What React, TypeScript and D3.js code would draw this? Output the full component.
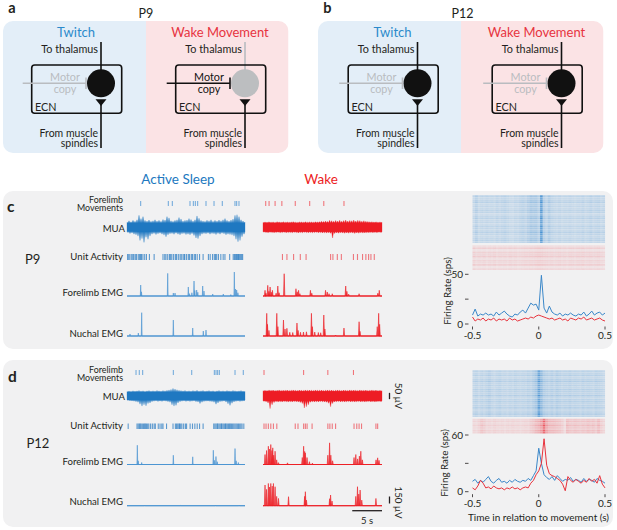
import React from "react";
import * as d3 from "d3";

// ---------------- DATA ----------------
// time (s) of each trace window: 0..20 s
const traceSeconds = [0, 20];

// Panel c (P9)
const cSleepMoves = [2.32, 7.0, 7.68, 10.68, 11.24, 11.58, 11.98, 13.39, 14.75, 16.15, 18.3, 18.59, 18.98];
const cWakeMoves = [0.46, 1.02, 2.03, 3.17, 5.42, 7.85, 10.22, 13.61];

const cSleepMuaUp = [40, 52, 45, 55, 48, 60, 95, 70, 85, 55, 50, 58, 48, 52, 60, 50, 55, 48, 62, 58, 85, 75, 52, 48, 55, 60, 78, 66, 50, 55, 58, 70, 62, 50, 60, 90, 72, 55, 50, 48, 56, 52, 60, 48, 55, 50, 58, 52, 60, 70, 55, 50, 58, 65, 95, 100, 85, 60, 50, 42];
const cSleepMuaDown = [42, 50, 46, 55, 60, 70, 105, 90, 120, 80, 95, 70, 55, 50, 58, 52, 48, 55, 62, 75, 60, 52, 50, 56, 48, 55, 60, 52, 50, 58, 55, 60, 52, 65, 85, 90, 70, 55, 50, 52, 48, 55, 50, 52, 58, 50, 55, 48, 52, 60, 55, 58, 62, 70, 95, 115, 105, 75, 55, 45];
const cWakeMuaUp = [38, 42, 40, 44, 41, 43, 39, 45, 42, 40, 44, 41, 43, 40, 42, 45, 41, 39, 43, 42, 40, 44, 41, 43, 42, 40, 44, 42, 45, 48, 46, 50, 47, 55, 52, 48, 54, 50, 56, 49, 53, 58, 50, 54, 52, 57, 50, 55, 53, 49, 52, 48, 46, 44, 45, 42, 44, 41, 43, 40];
const cWakeMuaDown = [38, 41, 43, 40, 42, 44, 41, 39, 43, 42, 40, 44, 42, 41, 43, 40, 42, 45, 41, 43, 40, 42, 44, 41, 43, 42, 40, 44, 42, 45, 43, 46, 44, 48, 85, 50, 45, 47, 44, 46, 48, 45, 47, 44, 46, 49, 45, 47, 44, 46, 45, 43, 44, 42, 44, 41, 43, 40, 42, 39];

const cSleepUnits = [0.1, 0.3, 0.5, 0.8, 1.0, 1.15, 1.4, 1.6, 1.9, 2.1, 2.3, 2.45, 2.7, 3.0, 3.3, 3.8, 4.6,
  6.1, 6.4, 6.6, 6.9, 7.2, 7.4, 7.6, 7.9, 8.2, 8.4, 8.7, 9.0, 9.2, 9.5, 9.7, 9.8, 10.1, 10.4, 10.6, 10.9, 11.1, 11.4, 11.6, 11.9, 12.3,
  12.9, 13.8, 14.1, 14.5, 14.8, 15.0, 15.2, 15.5, 15.9, 16.3, 16.6, 17.4,
  18.0, 18.2, 18.35, 18.5, 18.6, 18.75, 18.9, 19.0, 19.15, 19.3, 19.45, 19.6];
const cWakeUnits = [3.27, 4.02, 5.14, 6.27, 7.24, 11.36, 11.75, 12.49, 13.17, 15.2, 15.88, 16.73, 17.29, 17.75, 18.14, 18.7];

// EMG peaks: [time s, amplitude µV, optional half-width s]
const cSleepForelimbEmg = [[2.32, 235], [2.45, 90], [6.9, 485], [7.85, 64], [8.14, 64], [10.39, 193], [10.6, 50], [11.0, 70], [11.36, 321], [11.5, 120], [11.81, 128], [12.0, 80], [12.83, 214], [13.05, 107], [14.53, 43], [16.32, 43], [17.6, 30], [18.19, 514], [18.4, 150], [18.59, 128], [18.8, 70]];
const cSleepNuchalEmg = [[0.51, 43], [1.92, 64], [2.49, 500], [7.85, 342], [11.14, 171], [12.93, 107], [13.39, 128]];
const cWakeForelimbEmg = [[0.34, 122], [0.5, 60], [0.8, 229], [1.0, 100], [1.19, 193], [1.4, 80], [1.58, 122], [2.2, 60], [2.49, 214], [2.7, 70], [3.56, 477], [5.54, 156], [5.75, 90], [5.98, 122], [6.2, 50], [7.97, 122], [8.2, 60], [10.51, 122], [10.8, 86], [11.1, 50], [11.64, 49], [13.9, 214], [14.1, 100], [14.4, 40], [16.15, 49], [19.3, 60], [19.54, 122]];
const cWakeNuchalEmg = [[0.63, 486], [0.75, 250], [1.0, 120], [2.32, 486], [2.5, 200], [3.44, 342], [3.7, 150], [4.02, 165], [4.5, 80], [5.0, 75], [5.71, 278], [5.9, 120], [6.3, 80], [6.8, 85], [7.3, 90], [8.14, 486], [8.3, 200], [8.7, 85], [9.3, 75], [9.7, 70], [10.22, 450], [10.4, 150], [12.2, 21], [13.61, 171], [16.15, 306], [16.3, 100], [19.2, 200], [19.44, 486], [19.6, 250]];

// Panel d (P12)
const dSleepMoves = [1.53, 2.08, 2.66, 7.85, 10.97, 14.8, 15.09, 15.37, 15.65, 18.31, 19.71];
const dWakeMoves = [0.17, 6.83, 10.9, 15.2];

const dSleepMuaUp = [36, 40, 38, 42, 39, 41, 44, 40, 42, 38, 41, 43, 39, 42, 40, 44, 41, 39, 43, 42, 45, 48, 52, 60, 55, 50, 46, 43, 41, 44, 40, 42, 39, 43, 41, 45, 40, 42, 44, 39, 41, 43, 40, 42, 38, 41, 44, 40, 42, 39, 43, 41, 40, 44, 42, 39, 41, 43, 40, 37];
const dSleepMuaDown = [34, 38, 40, 42, 45, 50, 65, 80, 70, 78, 60, 55, 45, 42, 40, 44, 41, 43, 40, 42, 45, 50, 70, 80, 75, 55, 46, 42, 40, 43, 41, 44, 42, 40, 45, 48, 60, 50, 44, 42, 41, 43, 45, 50, 65, 55, 46, 43, 41, 48, 62, 75, 58, 47, 43, 41, 44, 42, 40, 36];
const dWakeMuaUp = [42, 46, 44, 48, 45, 47, 43, 46, 48, 44, 46, 45, 47, 44, 46, 48, 45, 43, 47, 46, 44, 48, 45, 47, 46, 44, 48, 46, 45, 47, 44, 46, 48, 45, 47, 44, 46, 48, 45, 43, 47, 46, 44, 48, 45, 47, 46, 44, 48, 46, 45, 47, 44, 46, 48, 45, 47, 44, 45, 42];
const dWakeMuaDown = [42, 46, 55, 100, 70, 52, 46, 48, 45, 47, 44, 46, 48, 45, 47, 44, 46, 48, 52, 60, 95, 85, 70, 50, 46, 48, 45, 47, 44, 46, 48, 50, 58, 85, 60, 48, 46, 44, 47, 45, 48, 46, 44, 47, 45, 48, 46, 44, 47, 45, 48, 46, 44, 47, 45, 48, 46, 44, 45, 42];

const dSleepUnits = [0.2, 1.7, 1.9, 2.1, 2.25, 2.4, 2.6, 2.8, 3.0, 3.1, 3.3, 3.5, 3.7, 4.0, 4.3, 4.6, 4.8, 5.3, 5.6, 5.9, 6.1, 6.7, 7.8, 8.2, 8.4, 8.6, 8.8, 8.9, 9.1, 9.3, 9.6, 9.9, 10.1, 10.7, 11.1, 11.5, 11.9, 12.3, 12.9,
  14.7, 14.9, 15.1, 15.3, 15.4, 15.6, 15.8, 16.0, 16.1, 16.3, 16.5, 16.7, 16.8, 17.0, 17.2, 17.4, 17.5, 17.7, 17.9, 18.1, 18.3, 18.5, 18.7, 18.9, 19.1, 19.3, 19.5, 19.8];
const dWakeUnits = [0.17, 0.51, 0.9, 1.31, 1.75, 2.32, 5.42, 5.88, 6.83, 7.12, 7.41, 8.25, 10.9, 11.24, 11.64, 12.2, 15.3, 15.76, 16.15, 16.56, 18.98, 19.27];

const dSleepForelimbEmg = [[1.75, 413], [1.9, 80], [2.49, 43], [7.85, 199], [11.14, 165], [14.63, 306], [14.8, 90], [15.08, 171], [15.3, 60], [18.31, 342], [18.5, 80], [18.87, 43]];
const dSleepNuchalEmg = [[3.0, 10], [9.0, 8], [15.0, 10], [19.0, 12]];
const dWakeForelimbEmg = [[0.34, 214], [0.6, 300], [0.9, 392], [1.1, 330], [1.31, 428], [1.5, 300], [1.64, 357], [1.8, 200], [2.03, 285], [2.3, 100], [2.6, 40], [4.12, 36], [6.6, 150], [6.83, 392], [7.0, 280], [7.12, 250], [7.4, 150], [7.8, 60], [8.3, 30], [10.9, 200], [11.19, 464], [11.4, 200], [11.7, 80], [15.3, 150], [15.6, 214], [15.9, 120], [16.2, 180], [16.44, 285], [16.7, 100], [19.0, 100], [19.27, 143], [19.5, 90]];
const dWakeNuchalEmg = [[0.34, 443], [0.6, 350], [0.9, 477], [1.1, 400], [1.31, 477], [1.55, 420], [1.75, 477], [2.03, 407], [2.3, 200], [2.6, 156], [4.29, 193], [7.0, 200], [7.12, 300], [7.3, 120], [11.2, 150], [11.36, 229], [11.6, 100], [15.6, 200], [15.88, 407], [16.1, 250], [16.32, 336], [16.6, 120], [18.98, 156]];

// Peri-movement firing rate (sps), bins of 0.02 s from -0.5 to 0.5 s
const psthTimes = d3.range(51).map((i) => +(-0.5 + i * 0.02).toFixed(2));
const cTwitchRate = [9, 15, 8, 10, 9, 11, 9, 10, 8, 12, 9, 11, 13, 10, 8, 7, 10, 9, 12, 14, 11, 16, 21, 19, 20, 14, 49, 16, 11, 18, 12, 10, 9, 11, 8, 10, 9, 11, 9, 8, 10, 9, 12, 8, 10, 13, 9, 11, 12, 9, 11];
const cWakeRate = [7, 3, 5, 4, 6, 3, 5, 4, 6, 3, 5, 4, 5, 3, 6, 4, 5, 3, 4, 5, 6, 5, 7, 6, 8, 9, 8, 7, 6, 5, 6, 4, 5, 6, 4, 5, 3, 6, 5, 4, 6, 5, 7, 4, 5, 6, 4, 5, 6, 4, 3];
const dTwitchRate = [11, 13, 9, 12, 10, 13, 16, 11, 9, 12, 14, 10, 11, 9, 12, 10, 13, 11, 10, 12, 11, 14, 12, 17, 22, 46, 30, 18, 15, 13, 16, 12, 17, 14, 11, 13, 12, 15, 11, 13, 12, 10, 14, 11, 13, 12, 10, 14, 12, 11, 9];
const dWakeRate = [4, 2, 6, 12, 9, 4, 5, 3, 6, 4, 3, 4, 2, 4, 3, 5, 3, 4, 2, 4, 5, 4, 9, 12, 18, 22, 30, 56, 28, 19, 17, 16, 14, 12, 8, 1, 16, 12, 10, 13, 11, 9, 12, 10, 14, 11, 13, 9, 17, 8, 4];

// raster trial density (relative, per row)
const cTwitchTrials = [1.1, 0.9, 1.0, 1.2, 0.85, 1.0, 0.9, 1.1, 1.05, 0.75, 1.0, 1.15, 0.9, 1.0, 0.8, 1.1, 1.0, 0.9, 1.2, 1.0, 0.85, 1.0, 1.1, 0.9];
const cWakeTrials = [0.6, 1.2, 0.5, 1.1, 0.9, 1.3, 0.6, 1.0, 0.8, 1.2, 0.5, 0.9];
const dTwitchTrials = [1.0, 0.9, 1.1, 0.8, 1.0, 1.2, 0.9, 1.0, 0.85, 1.1, 1.0, 0.9, 1.2, 0.8, 1.0, 1.1, 0.9, 1.0, 1.15, 0.85, 1.0, 1.2, 0.9];
const dWakeTrials = [0.9, 1.1, 0.8, 1.2, 1.0, 0.9, 1.1, 1.0];

const cRateTicks = [0, 25, 50];
const dRateTicks = [0, 30, 60];
const timeTicks = [-0.5, 0, 0.5];

// ---------------- STYLE ----------------
const FONT = "Lato, 'Open Sans', 'DejaVu Sans', sans-serif";
const INK = "#231f20";
const BLUE = "#1f78c1";
const RED = "#ed1c24";
const GRAYLINE = "#b9bcc0";
const PANEL_BG = "#f1f1f2";
const MUA_K = 6.3 / 50; // px per µV
const EMG_K = 7 / 150; // px per µV

type Peak = number[];

function emgPath(peaks: Peak[], xs: d3.ScaleLinear<number, number>, base: number, hw: number) {
  const pts: [number, number][] = [[traceSeconds[0], 0]];
  [...peaks].sort((a, b) => a[0] - b[0]).forEach((p) => {
    const w = p[2] ?? hw;
    pts.push([p[0] - w, 0], [p[0], p[1]], [p[0] + w, 0]);
  });
  pts.push([traceSeconds[1], 0]);
  return d3.area<[number, number]>().x((d) => xs(d[0])).y0(base).y1((d) => base - d[1] * EMG_K)(pts) || "";
}

// MUA: upward excursions at samples, downward excursions between samples, around a core band
function muaPath(up: number[], down: number[], xs: d3.ScaleLinear<number, number>, c: number, core: number) {
  const n = up.length;
  const tt = d3.scaleLinear().domain([0, n - 1]).range(traceSeconds);
  const half = (traceSeconds[1] - traceSeconds[0]) / (n - 1) / 2;
  const pts: { t: number; u: number; d: number }[] = [];
  for (let i = 0; i < n; i++) {
    pts.push({ t: tt(i), u: up[i], d: core });
    if (i < n - 1) pts.push({ t: tt(i) + half, u: core, d: down[i] });
  }
  return d3.area<{ t: number; u: number; d: number }>().x((p) => xs(p.t)).y0((p) => c + p.d * MUA_K).y1((p) => c - p.u * MUA_K)(pts) || "";
}

interface TraceSet {
  moves: number[]; muaUp: number[]; muaDown: number[]; units: number[]; femg: Peak[]; nemg: Peak[]; core: number;
}
interface RowY { move: [number, number]; mua: number; unit: [number, number]; femg: number; nemg: number; }

function Traces({ set, xs, y, sleep }: { set: TraceSet; xs: d3.ScaleLinear<number, number>; y: RowY; sleep: boolean }) {
  const main = sleep ? BLUE : RED;
  const light = sleep ? "#5b9dd6" : "#ef5b62";
  const emgC = sleep ? "#4a93d1" : RED;
  const hw = sleep ? 0.07 : 0.11;
  const [x0, x1] = xs.range();
  return (
    <g>
      {set.moves.map((t, i) => (
        <line key={"m" + i} x1={xs(t)} x2={xs(t)} y1={y.move[0]} y2={y.move[1]} stroke={light} strokeWidth={0.9} />
      ))}
      <path d={muaPath(set.muaUp, set.muaDown, xs, y.mua, set.core)} fill={main} stroke={main} strokeWidth={0.3} />
      {set.units.map((t, i) => (
        <line key={"u" + i} x1={xs(t)} x2={xs(t)} y1={y.unit[0]} y2={y.unit[1]} stroke={sleep ? "#2b7cc3" : "#ec4f57"} strokeWidth={1.1} strokeOpacity={0.75} />
      ))}
      <line x1={x0} x2={x1} y1={y.femg} y2={y.femg} stroke={emgC} strokeWidth={0.9} />
      <path d={emgPath(set.femg, xs, y.femg, hw)} fill={emgC} fillOpacity={0.75} stroke={emgC} strokeWidth={0.6} />
      <line x1={x0} x2={x1} y1={y.nemg} y2={y.nemg} stroke={emgC} strokeWidth={0.9} />
      <path d={emgPath(set.nemg, xs, y.nemg, hw)} fill={emgC} fillOpacity={0.75} stroke={emgC} strokeWidth={0.6} />
    </g>
  );
}

function RowLabels({ y, mua, unit, femg, nemg }: { y: [number, number]; mua: number; unit: number; femg: number; nemg: number }) {
  const fs = 9.6;
  return (
    <g fontSize={fs} fill={INK}>
      <text x={123} y={y[0]} textAnchor="end" fontSize={8.9}>Forelimb</text>
      <text x={123} y={y[1]} textAnchor="end" fontSize={8.9}>Movements</text>
      <text x={125} y={mua} textAnchor="end">MUA</text>
      <text x={123} y={unit} textAnchor="end">Unit Activity</text>
      <text x={123} y={femg} textAnchor="end">Forelimb EMG</text>
      <text x={123} y={nemg} textAnchor="end">Nuchal EMG</text>
    </g>
  );
}

function Raster({ rates, trials, x0, x1, y0, y1, color }: { rates: number[]; trials: number[]; x0: number; x1: number; y0: number; y1: number; color: string }) {
  const cw = (x1 - x0) / rates.length;
  const rh = (y1 - y0) / trials.length;
  const op = d3.scaleLinear().domain([0, 55]).range([0.12, 0.85]);
  return (
    <g>
      {trials.map((w, r) =>
        rates.map((v, c) => (
          <rect key={r + "-" + c} x={x0 + c * cw} y={y0 + r * rh + 0.25} width={cw + 0.05} height={rh - 0.25}
            fill={color} fillOpacity={Math.min(1, op(v) * w)} />
        ))
      )}
    </g>
  );
}

function Psth({ twitch, wake, ticks, yZero, yTop, label, yLabelX, yLabelY, rasterTw, rasterWk, twTrials, wkTrials }: {
  twitch: number[]; wake: number[]; ticks: number[]; yZero: number; yTop: number; label: number; yLabelX: number; yLabelY: number;
  rasterTw: [number, number]; rasterWk: [number, number]; twTrials: number[]; wkTrials: number[];
}) {
  const xs = d3.scaleLinear().domain([-0.5, 0.5]).range([472.5, 605]);
  const ys = d3.scaleLinear().domain([ticks[0], ticks[2]]).range([yZero, yTop]);
  const line = d3.line<number>().x((_, i) => xs(psthTimes[i])).y((v) => ys(v));
  return (
    <g>
      <Raster rates={twitch} trials={twTrials} x0={472.5} x1={605} y0={rasterTw[0]} y1={rasterTw[1]} color="#3b8bd0" />
      <Raster rates={wake} trials={wkTrials} x0={472.5} x1={605} y0={rasterWk[0]} y1={rasterWk[1]} color="#ec5a63" />
      <path d={line(twitch) || ""} fill="none" stroke="#3a87c9" strokeWidth={1} />
      <path d={line(wake) || ""} fill="none" stroke="#e8323c" strokeWidth={1} />
      {ticks.map((t, i) => (
        <g key={"yt" + i}>
          <line x1={465} x2={468.5} y1={ys(t)} y2={ys(t)} stroke={INK} strokeWidth={0.8} />
          {i !== 1 && <text x={463} y={ys(t)} dy="0.35em" textAnchor="end" fontSize={10} fill={INK}>{t}</text>}
        </g>
      ))}
      {timeTicks.map((t, i) => (
        <g key={"xt" + i}>
          <line x1={xs(t)} x2={xs(t)} y1={yZero + 2.5} y2={yZero + 5.5} stroke={INK} strokeWidth={0.8} />
          <text x={xs(t)} y={label} textAnchor="middle" fontSize={10} fill={INK}>{t}</text>
        </g>
      ))}
      <text transform={`translate(${yLabelX},${yLabelY}) rotate(-90)`} textAnchor="middle" fontSize={9.8} fill={INK}>Firing Rate (sps)</text>
    </g>
  );
}

function Half({ hx, title, titleColor, topColor, somaColor, motorColor }: { hx: number; title: string; titleColor: string; topColor: string; somaColor: string; motorColor: string }) {
  const cx = hx + 101, cy = 83.3;
  return (
    <g>
      <text x={hx + 76} y={37} textAnchor="middle" fontSize={13} fill={titleColor}>{title}</text>
      <text x={hx + 98} y={53} textAnchor="end" fontSize={10.8} fill={INK}>To thalamus</text>
      <line x1={cx} x2={cx} y1={42} y2={cy} stroke={topColor} strokeWidth={1.6} />
      <line x1={cx} x2={cx} y1={100} y2={148} stroke="#111" strokeWidth={1.6} />
      <rect x={hx + 31.7} y={65} width={90} height={48.3} rx={3} fill="none" stroke="#111" strokeWidth={1.6} />
      <circle cx={cx} cy={cy} r={14} fill={somaColor} />
      <path d={`M${cx - 5.5},99.3 L${cx + 5.5},99.3 L${cx},106 Z`} fill="#111" />
      <line x1={hx + 22.7} x2={hx + 86} y1={cy} y2={cy} stroke={motorColor} strokeWidth={1.6} />
      <line x1={hx + 86} x2={hx + 86} y1={77.5} y2={89} stroke={motorColor} strokeWidth={1.6} />
      <text x={hx + 65} y={81} textAnchor="middle" fontSize={10.8} fill={motorColor}>Motor</text>
      <text x={hx + 65} y={92.5} textAnchor="middle" fontSize={10.8} fill={motorColor}>copy</text>
      <text x={hx + 35} y={110.5} fontSize={10.8} fill={INK}>ECN</text>
      <text x={hx + 98} y={136.5} textAnchor="end" fontSize={10.5} fill={INK}>From muscle</text>
      <text x={hx + 98} y={147.2} textAnchor="end" fontSize={10.5} fill={INK}>spindles</text>
    </g>
  );
}

function Schematic({ bx, ox, letter, age, wakeActive }: { bx: number; ox: number; letter: string; age: string; wakeActive: boolean }) {
  const id = "clip" + letter;
  return (
    <g>
      <text x={bx + 5.3} y={13} fontSize={14.5} fontWeight="bold" fill={INK}>{letter}</text>
      <text x={ox + 146} y={17.5} textAnchor="middle" fontSize={12.5} fill={INK}>{age}</text>
      <clipPath id={id}><rect x={bx} y={21} width={285.5} height={132} rx={10} /></clipPath>
      <g clipPath={`url(#${id})`}>
        <rect x={bx} y={21} width={143} height={132} fill="#e3eef8" />
        <rect x={bx + 143} y={21} width={142.5} height={132} fill="#fbe3e5" />
      </g>
      <Half hx={ox} title="Twitch" titleColor="#2b8acb" topColor="#111" somaColor="#111" motorColor={GRAYLINE} />
      <Half hx={ox + 144} title="Wake Movement" titleColor="#e7343f" topColor={wakeActive ? GRAYLINE : "#111"}
        somaColor={wakeActive ? "#bcbec0" : "#111"} motorColor={wakeActive ? "#111" : GRAYLINE} />
    </g>
  );
}

export default function App() {
  const xsSleep = d3.scaleLinear().domain(traceSeconds).range([127, 245]);
  const xsWake = d3.scaleLinear().domain(traceSeconds).range([263, 382]);
  const cY: RowY = { move: [201, 206], mua: 227.3, unit: [254, 260], femg: 296, nemg: 336 };
  const dY: RowY = { move: [370, 375], mua: 396, unit: [423.5, 429], femg: 464.5, nemg: 505.7 };

  return (
    <svg width={617} height={530} viewBox="0 0 617 530" fontFamily={FONT}
      style={{ position: "absolute", left: 0, top: 0, background: "#fff" }}>
      <rect width={617} height={530} fill="#fff" />

      {/* panels a, b */}
      <Schematic bx={3} ox={0} letter="a" age="P9" wakeActive={true} />
      <Schematic bx={318} ox={316.5} letter="b" age="P12" wakeActive={false} />

      {/* column titles */}
      <text x={178} y={184} textAnchor="middle" fontSize={13.5} fill="#2178c0">Active Sleep</text>
      <text x={321} y={184} textAnchor="middle" fontSize={13.5} fill={RED}>Wake</text>

      {/* panel c */}
      <rect x={3} y={191} width={610} height={158} rx={10} fill={PANEL_BG} />
      <text x={7} y={212} fontSize={15.5} fontWeight="bold" fill={INK}>c</text>
      <text x={25} y={264} fontSize={13} fill={INK}>P9</text>
      <RowLabels y={[202.6, 211]} mua={231.5} unit={259.5} femg={295.5} nemg={336.5} />
      <Traces xs={xsSleep} y={cY} sleep={true} set={{ moves: cSleepMoves, muaUp: cSleepMuaUp, muaDown: cSleepMuaDown, units: cSleepUnits, femg: cSleepForelimbEmg, nemg: cSleepNuchalEmg, core: 34 }} />
      <Traces xs={xsWake} y={cY} sleep={false} set={{ moves: cWakeMoves, muaUp: cWakeMuaUp, muaDown: cWakeMuaDown, units: cWakeUnits, femg: cWakeForelimbEmg, nemg: cWakeNuchalEmg, core: 36 }} />
      <Psth twitch={cTwitchRate} wake={cWakeRate} ticks={cRateTicks} yZero={324} yTop={274.3} label={339}
        yLabelX={451} yLabelY={291} rasterTw={[195, 243]} rasterWk={[245, 270]} twTrials={cTwitchTrials} wkTrials={cWakeTrials} />

      {/* panel d */}
      <rect x={3} y={360} width={610} height={167} rx={10} fill={PANEL_BG} />
      <text x={8} y={382} fontSize={15.5} fontWeight="bold" fill={INK}>d</text>
      <text x={26.5} y={448} fontSize={13} fill={INK}>P12</text>
      <RowLabels y={[372.6, 381]} mua={400} unit={429} femg={465} nemg={505} />
      <Traces xs={xsSleep} y={dY} sleep={true} set={{ moves: dSleepMoves, muaUp: dSleepMuaUp, muaDown: dSleepMuaDown, units: dSleepUnits, femg: dSleepForelimbEmg, nemg: dSleepNuchalEmg, core: 31 }} />
      <Traces xs={xsWake} y={dY} sleep={false} set={{ moves: dWakeMoves, muaUp: dWakeMuaUp, muaDown: dWakeMuaDown, units: dWakeUnits, femg: dWakeForelimbEmg, nemg: dWakeNuchalEmg, core: 38 }} />
      <Psth twitch={dTwitchRate} wake={dWakeRate} ticks={dRateTicks} yZero={491.7} yTop={435} label={507}
        yLabelX={448} yLabelY={463} rasterTw={[370, 417]} rasterWk={[418.5, 433.5]} twTrials={dTwitchTrials} wkTrials={dWakeTrials} />
      <text x={538.5} y={521} textAnchor="middle" fontSize={10} fill={INK}>Time in relation to movement (s)</text>

      {/* scale bars */}
      <line x1={389.5} x2={389.5} y1={dY.mua - 25 * MUA_K} y2={dY.mua + 25 * MUA_K} stroke={INK} strokeWidth={1.3} />
      <text transform={`translate(394.5,${dY.mua}) rotate(90)`} textAnchor="middle" fontSize={9.8} fill={INK}>50 μV</text>
      <line x1={389.5} x2={389.5} y1={503.5 - 150 * EMG_K} y2={503.5} stroke={INK} strokeWidth={1.3} />
      <text transform={`translate(394.5,502.5) rotate(90)`} textAnchor="middle" fontSize={9.8} fill={INK}>150 μV</text>
      <line x1={xsWake(15)} x2={xsWake(20)} y1={510.7} y2={510.7} stroke={INK} strokeWidth={1.3} />
      <text x={(xsWake(15) + xsWake(20)) / 2} y={523.5} textAnchor="middle" fontSize={9.5} fill={INK}>5 s</text>
    </svg>
  );
}
